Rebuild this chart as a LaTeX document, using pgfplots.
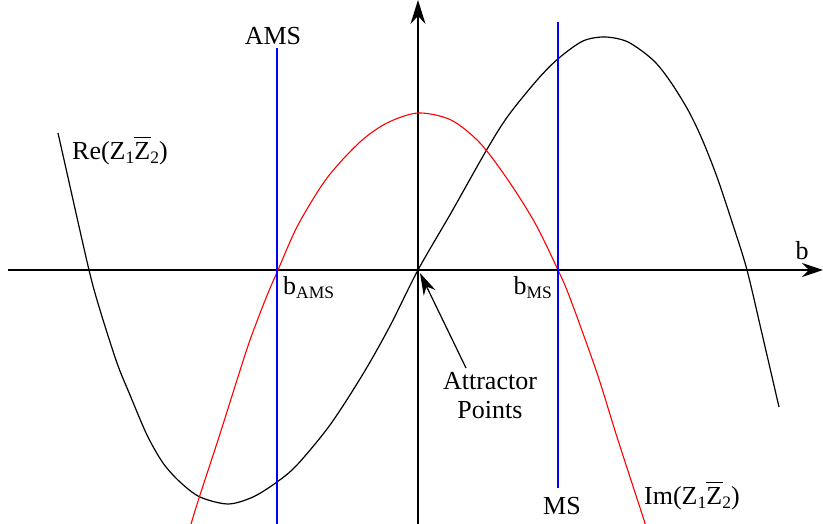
\documentclass[border=0pt]{standalone}
\usepackage{fontspec}
\setmainfont{Liberation Serif}
\usepackage{pgfplots}
\pgfplotsset{compat=1.18}
\usetikzlibrary{arrows.meta}

\newcommand\F{\fontsize{26}{31}\selectfont}
\newcommand\sub[1]{\raisebox{-4pt}{\fontsize{17.5}{20}\selectfont #1}}
% Z with a bar over it
\newcommand\zbar{\rlap{\rule[22pt]{17pt}{1.1pt}}Z}

\begin{document}
\begin{tikzpicture}
\begin{axis}[
    scale only axis, width=823pt, height=524pt,
    xmin=-418, xmax=405, ymin=-254, ymax=270,
    axis lines=middle, ticks=none,
    x axis line style={line width=1.4pt, -{Stealth[length=21pt,width=14pt,inset=7pt]}, shorten <=8pt},
    y axis line style={line width=1.4pt, -{Stealth[length=24pt,width=15pt,inset=8pt]}},
]
% Re(Z1 Z2bar)
\addplot[black, line width=1.2pt, smooth, tension=0.5] coordinates {
  (-360,137) (-351,97) (-329,0) (-318,-40) (-301,-93) (-288,-125)
  (-271,-165) (-255,-193) (-238,-212) (-218,-227) (-190,-234)
  (-165,-227) (-141,-212) (-121,-195) (-88,-155) (-55,-104)
  (-28,-56) (0,0) (33,57) (68,119) (90,154) (120,191) (141,212)
  (165,229) (187,233) (210,228) (235,210) (252,189) (270,160)
  (284,131) (299,93) (315,45) (329,0) (345,-68) (361,-137)
};
% Im(Z1 Z2bar)
\addplot[red, line width=1.1pt, smooth, tension=0.5] coordinates {
  (-227,-254) (-218,-225) (-199,-167) (-181,-110) (-168,-70)
  (-152,-28) (-140,0) (-120,45) (-91,92) (-58,128) (-31,147)
  (0,157) (33,150) (62,127) (90,90) (117,47) (140,0) (152,-28)
  (179,-103) (199,-167) (225,-247) (227,-254)
};
% AMS and MS lines
\addplot[blue, line width=2pt] coordinates {(-141,222) (-141,-254)};
\addplot[blue, line width=2pt] coordinates {(140,248) (140,-218)};

\node[anchor=base west, inner sep=0pt] at (axis cs:-346,110) {\F Re(Z\sub{1}\zbar\sub{2})};
\node[anchor=base, inner sep=0pt] at (axis cs:-145,225) {\F AMS};
\node[anchor=base west, inner sep=0pt] at (axis cs:-135,-25) {\F b\sub{AMS}};
\node[anchor=base east, inner sep=0pt] at (axis cs:134,-25) {\F b\sub{MS}};
\node[anchor=base, inner sep=0pt] at (axis cs:72,-120) {\F Attractor};
\node[anchor=base, inner sep=0pt] at (axis cs:72,-149) {\F Points};
\node[anchor=base, inner sep=0pt] at (axis cs:144,-245) {\F MS};
\node[anchor=base west, inner sep=0pt] at (axis cs:226,-235) {\F Im(Z\sub{1}\zbar\sub{2})};
\node[anchor=base, inner sep=0pt] at (axis cs:384,10) {\F b};
\draw[line width=1.2pt, -{Stealth[length=22pt,width=13pt,inset=7pt]}]
  (axis cs:48,-98) -- (axis cs:2,-3);
\end{axis}
\pgfresetboundingbox
\path[use as bounding box] (current axis.south west) rectangle (current axis.north east);
\end{tikzpicture}
\end{document}
